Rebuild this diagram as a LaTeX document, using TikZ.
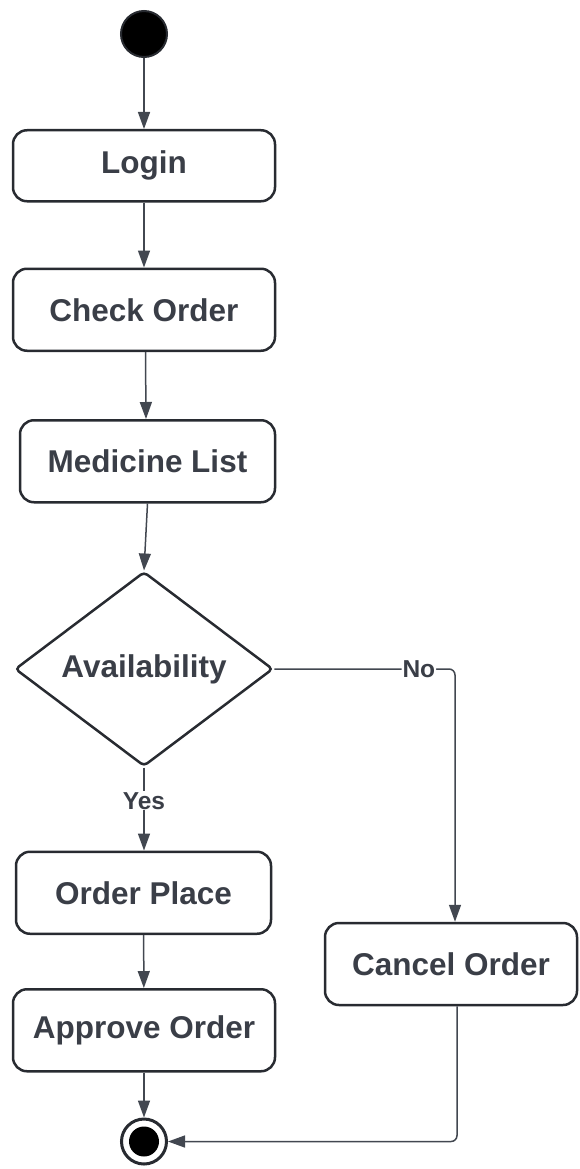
\documentclass[tikz,border=0pt]{standalone}
\usepackage{fontspec}
\setmainfont{Liberation Sans}
\usepackage{tikz}
\usetikzlibrary{shapes.geometric,arrows.meta,positioning}
\definecolor{ink}{RGB}{58,62,71}
\definecolor{edgecol}{RGB}{40,43,49}
\definecolor{linkcol}{RGB}{66,71,80}
\tikzstyle{activity} = [rectangle, rounded corners=14pt, minimum width=262pt, minimum height=82pt, draw=edgecol, line width=2.5pt, text=ink, font=\bfseries\fontsize{31.5}{38}\selectfont]
\tikzstyle{decision} = [diamond, rounded corners=4pt, minimum width=258pt, minimum height=180pt, inner sep=0pt, draw=edgecol, line width=2.5pt, text=ink, font=\bfseries\fontsize{31.5}{38}\selectfont]
\tikzstyle{initial} = [circle, minimum size=46pt, draw=edgecol, line width=2pt, fill=black]
\tikzstyle{final} = [circle, minimum size=45pt, draw=edgecol, line width=3pt, fill=white]
\tikzstyle{finaldot} = [circle, minimum size=30pt, inner sep=0pt, fill=black]
\tikzstyle{guard} = [fill=white, inner sep=1pt, text=ink, font=\bfseries\fontsize{24.5}{29}\selectfont]
\tikzstyle{arrow} = [draw=linkcol, line width=1.5pt, -{Triangle[width=12pt,length=17pt]}]

\begin{document}
\begin{tikzpicture}
\useasboundingbox (0,0) rectangle (579pt,-1169pt);
\node (start) [initial] at (144pt,-34pt) {};
\node (login) [activity, below=71pt of start, minimum height=71pt] {Login};
\node (check) [activity, below=65pt of login] {Check Order};
\node (medlist) [activity, below=67pt of check, xshift=3.5pt, minimum width=255pt] {Medicine List};
\node (avail) [decision, below=67pt of medlist, xshift=-3.5pt] {Availability};
\node (place) [activity, below=83pt of avail, xshift=-0.5pt, minimum width=255pt] {Order Place};
\node (approve) [activity, below=53pt of place, xshift=0.5pt] {Approve Order};
\node (stop) [final, below=45pt of approve] {};
\node (stopdot) [finaldot] at (stop) {};
\node (cancel) [activity, minimum width=252pt] at (451pt,-964pt) {Cancel Order};
\draw[arrow] (start) -- (login);
\draw[arrow] (login) -- (check);
\draw[arrow] ([xshift=1.5pt]check.south) -- ([xshift=-1.5pt]medlist.north);
\draw[arrow] (medlist.south) -- (avail.north);
\draw[arrow] (avail.south) -- node[guard, pos=0.4] {Yes} ([xshift=0.5pt]place.north);
\draw[arrow] (place) -- (approve);
\draw[arrow] (approve) -- (stop);
\draw[arrow, rounded corners=6pt] (avail.east) -| node[guard, pos=0.4] {No} ([xshift=4pt]cancel.north);
\draw[arrow, rounded corners=6pt] ([xshift=6pt]cancel.south) |- (stop.east);
\end{tikzpicture}
\end{document}
